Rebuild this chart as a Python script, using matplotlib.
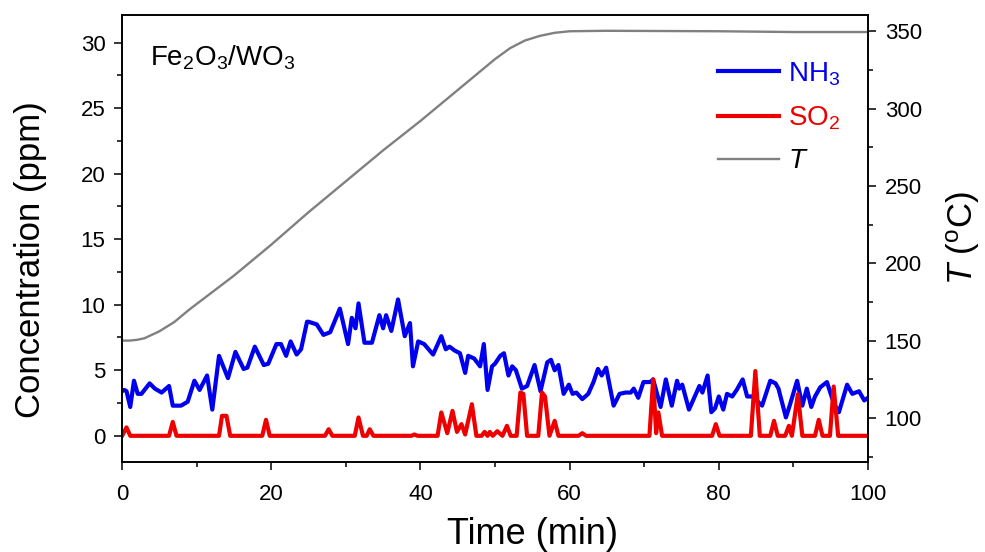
import matplotlib.pyplot as plt
from matplotlib.ticker import MultipleLocator

plt.rcParams['font.family'] = ['Liberation Sans', 'DejaVu Sans']
plt.rcParams['mathtext.fontset'] = 'custom'
plt.rcParams['mathtext.rm'] = 'Liberation Sans'
plt.rcParams['mathtext.it'] = 'Liberation Sans:italic'

# NH3 concentration (ppm)
nh3_t = [0, 0.3, 0.6, 1.1, 1.6, 2.1, 2.6, 3.7, 4.4, 5.3, 6.3, 6.8, 7.9, 8.8, 9.7,
         10.4, 11.4, 12.1, 13.0, 14.2, 15.2, 16.3, 16.8, 17.8, 19.0, 19.6, 20.7, 21.3,
         22.0, 22.6, 23.4, 24.0, 24.8, 25.0, 26.1, 27.0, 27.9, 29.2, 30.3, 30.8,
         31.3, 31.7, 32.5, 33.5, 34.5, 35.0, 35.4, 36.1, 37.0, 37.9, 38.6, 39.0,
         39.7, 40.5, 41.7, 42.8, 43.4, 43.9, 44.6, 45.3, 46.0, 46.4, 47.2, 48.0,
         48.5, 49.0, 49.6, 50.0, 50.7, 51.2, 51.8, 52.3, 52.8, 53.6, 54.3, 55.3,
         56.1, 57.0, 57.5, 58.0, 58.5, 59.2, 59.9, 60.4, 60.9, 61.7, 62.5, 63.2,
         63.8, 64.3, 64.9, 65.9, 66.7, 67.5, 68.2, 68.6, 69.2, 69.9, 70.8, 71.2,
         72.2, 72.9, 73.7, 74.4, 74.7, 75.1, 76.0, 76.7, 77.4, 77.8, 78.5, 79.0,
         79.5, 80.0, 80.6, 81.1, 81.8, 82.4, 83.2, 83.8, 84.5, 85.8, 86.9, 87.6,
         88.0, 89.0, 89.5, 90.5, 91.2, 91.8, 92.4, 92.9, 93.6, 94.5, 95.0, 95.4,
         96.1, 97.2, 97.9, 98.8, 99.5, 100]
nh3_v = [3.4, 3.5, 3.4, 2.2, 4.2, 3.2, 3.2, 4.0, 3.6, 3.3, 3.8, 2.3, 2.3, 2.6, 4.2,
         3.5, 4.6, 2.0, 6.1, 4.4, 6.4, 5.1, 5.2, 6.8, 5.4, 5.5, 7.0, 7.0,
         6.1, 7.2, 6.2, 6.6, 8.7, 8.7, 8.5, 7.7, 7.9, 9.7, 7.0, 9.0,
         8.2, 10.1, 7.1, 7.1, 9.2, 8.2, 9.2, 8.0, 10.4, 7.6, 8.6, 5.3,
         7.2, 7.0, 6.2, 7.6, 6.6, 6.8, 6.5, 6.3, 4.8, 6.1, 5.9, 5.3,
         7.0, 3.5, 5.3, 5.5, 6.1, 6.3, 4.6, 5.3, 5.0, 3.6, 3.8, 5.4,
         3.4, 5.6, 5.8, 5.0, 5.4, 3.2, 3.9, 3.2, 3.3, 2.8, 3.2, 4.1,
         5.1, 4.6, 5.2, 2.3, 3.2, 3.3, 3.3, 3.6, 2.9, 4.1, 4.1, 4.3,
         2.2, 4.3, 2.3, 4.2, 3.6, 3.9, 2.0, 2.9, 3.8, 3.3, 4.6, 1.8,
         2.1, 3.0, 2.0, 3.2, 3.0, 3.5, 4.3, 3.0, 3.0, 2.3, 4.2, 4.0,
         3.6, 1.4, 2.3, 4.2, 2.3, 3.6, 2.2, 3.0, 3.7, 4.1, 3.2, 2.5,
         1.8, 3.9, 3.2, 3.4, 2.7, 2.9]

# SO2 concentration (ppm)
so2_t = [0, 0.6, 1.1, 6.3, 6.8, 7.3, 13.0, 13.4, 14.0, 14.5, 18.8, 19.3, 19.8,
         27.2, 27.7, 28.2, 31.2, 31.7, 32.3, 32.8, 33.2, 33.7, 38.8, 39.2, 39.6,
         42.3, 42.8, 43.6, 44.3, 44.9, 45.5, 46.0, 46.9, 47.5, 48.2, 48.6, 49.0,
         49.3, 49.7, 50.3, 51.0, 51.6, 52.1, 52.9, 53.4, 53.8, 54.3, 55.8, 56.3,
         56.7, 57.3, 58.0, 58.5, 61.2, 61.7, 62.2, 70.7, 71.2, 71.6, 71.9, 72.4,
         79.1, 79.6, 80.1, 84.3, 84.9, 85.5, 86.9, 87.4, 87.9, 88.9, 89.4, 89.8,
         90.6, 91.2, 92.9, 93.4, 93.9, 94.9, 95.4, 96.0, 100]
so2_v = [0, 0.64, 0, 0, 1.06, 0, 0, 1.52, 1.52, 0, 0, 1.22, 0,
         0, 0.5, 0, 0, 1.4, 0, 0, 0.5, 0, 0, 0.1, 0,
         0, 1.78, 0.2, 1.9, 0.3, 0.89, 0.1, 2.41, 0, 0, 0.3, 0,
         0.3, 0, 0.35, 0, 0.76, 0, 0, 3.3, 3.2, 0, 0, 3.3,
         3.0, 0, 1.14, 0, 0, 0.2, 0, 0, 4.31, 0.2, 1.78, 0,
         0, 0.89, 0, 0, 4.94, 0, 0, 1.14, 0, 0, 0.76, 0,
         3.17, 0, 0, 1.22, 0, 0, 3.76, 0, 0]

# temperature (degC)
temp_t = [0, 1, 2, 3, 5, 7, 9, 12, 15, 20, 25, 30, 35, 40, 45, 50, 52, 54, 56,
          58, 60, 65, 70, 80, 90, 100]
temp_v = [150, 150, 150.5, 151.5, 156, 162, 170, 181, 192, 212, 233, 253, 273,
          292, 312, 332, 339, 344, 347, 349, 350, 350.3, 350.2, 350, 349.5, 349.5]

fig = plt.figure(figsize=(9.85, 5.52), dpi=100)
ax = fig.add_axes([0.1239, 0.163, 0.7573, 0.8098])
ax2 = ax.twinx()

l1, = ax.plot(nh3_t, nh3_v, color='#0000ee', lw=3.0, label=r'NH$_3$')
l2, = ax.plot(so2_t, so2_v, color='#ee0000', lw=3.0, label=r'SO$_2$')
l3, = ax2.plot(temp_t, temp_v, color='#808080', lw=1.7, label=r'$T$')

ax.set_xlim(0, 100)
ax.set_ylim(-2, 32.1)
ax2.set_ylim(71.5, 360.5)

ax.xaxis.set_major_locator(MultipleLocator(20))
ax.xaxis.set_minor_locator(MultipleLocator(10))
ax.yaxis.set_major_locator(MultipleLocator(5))
ax.yaxis.set_minor_locator(MultipleLocator(2.5))
ax2.yaxis.set_major_locator(MultipleLocator(50))
ax2.yaxis.set_minor_locator(MultipleLocator(25))

for a in (ax, ax2):
    a.tick_params(which='major', direction='out', length=6, width=1.1,
                  labelsize=16, pad=6)
    a.tick_params(which='minor', direction='out', length=3.5, width=1.1)
    for s in a.spines.values():
        s.set_linewidth(1.2)
ax.tick_params(axis='x', which='major', pad=10)

ax.set_xlabel('Time (min)', fontsize=26)
ax.xaxis.set_label_coords(0.55, -0.123)
ax.set_ylabel('Concentration (ppm)', fontsize=25)
ax.yaxis.set_label_coords(-0.1, 0.453)
ax2.set_ylabel(r'$T$ ($^{\rm o}$C)', fontsize=25, labelpad=16)

ax.text(0.037, 0.905, r'Fe$_2$O$_3$/WO$_3$', transform=ax.transAxes,
        fontsize=20, ha='left', va='center')

leg = ax.legend(handles=[l1, l2, l3], loc='upper right', frameon=False,
                bbox_to_anchor=(0.996, 0.955), fontsize=20, handlelength=2.2,
                labelspacing=0.6, handletextpad=0.3)
for txt, line in zip(leg.get_texts(), [l1, l2, l3]):
    txt.set_color('black' if line is l3 else line.get_color())

fig.savefig('out.png', dpi=100)
